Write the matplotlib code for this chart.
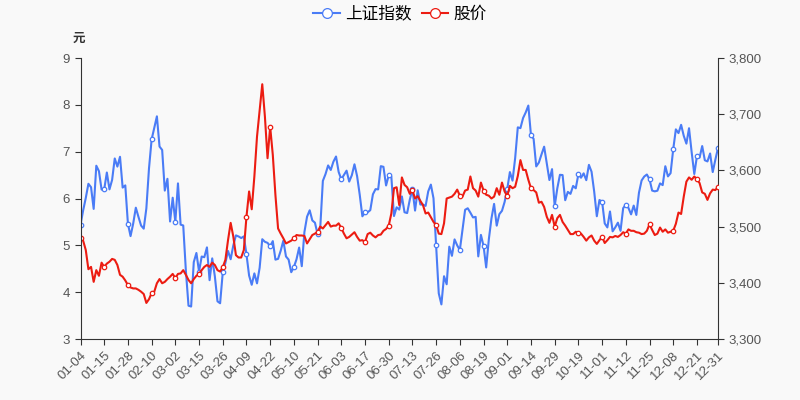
import numpy as np
import pandas as pd
import matplotlib
matplotlib.use('Agg')
import matplotlib.pyplot as plt
from matplotlib.ticker import FuncFormatter

plt.rcParams['font.family'] = ['Liberation Sans', 'Noto Sans CJK SC', 'DejaVu Sans']

# 2021年交易日(剔除节假日)
holidays = ['2021-01-01', '2021-02-11', '2021-02-12', '2021-02-15', '2021-02-16',
            '2021-02-17', '2021-04-05', '2021-05-03', '2021-05-04', '2021-05-05',
            '2021-06-14', '2021-09-20', '2021-09-21', '2021-10-01', '2021-10-04',
            '2021-10-05', '2021-10-06', '2021-10-07']
days = pd.bdate_range('2021-01-01', '2021-12-31')
days = days[~days.isin(pd.to_datetime(holidays))]
dates = [d.strftime('%m-%d') for d in days]

# 上证指数 收盘
sse = [
    # 1月
    3502.96, 3528.68, 3550.88, 3576.20, 3570.11, 3531.50, 3608.34, 3598.65, 3565.90, 3566.38,
    3596.22, 3566.26, 3583.09, 3621.26, 3606.75, 3624.24, 3569.43, 3573.34, 3505.18, 3483.07,
    # 2月
    3505.28, 3533.68, 3517.31, 3501.86, 3496.33, 3532.44, 3603.49, 3655.09, 3675.36, 3696.17,
    3642.44, 3636.36, 3564.08, 3585.05, 3509.08,
    # 3月
    3551.40, 3508.59, 3576.90, 3503.49, 3501.99, 3421.41, 3359.29, 3357.74, 3436.83, 3453.08,
    3419.95, 3446.73, 3445.55, 3463.07, 3404.66, 3443.44, 3411.51, 3367.06, 3363.59, 3418.33,
    3435.30, 3456.68, 3441.91,
    # 4月
    3466.33, 3484.39, 3482.48, 3479.63, 3482.55, 3450.68, 3412.95, 3396.47, 3416.75, 3398.99,
    3426.62, 3477.55, 3472.94, 3471.07, 3465.11, 3474.17, 3441.17, 3442.61, 3457.07, 3474.90,
    3446.86,
    # 5月
    3441.28, 3418.87, 3427.99, 3441.85, 3462.75, 3429.54, 3490.38, 3517.62, 3529.01, 3510.96,
    3506.94, 3486.56, 3497.28, 3581.34, 3593.36, 3608.85, 3600.78, 3615.48,
    # 6月
    3624.71, 3597.14, 3584.22, 3591.84, 3599.54, 3580.11, 3591.40, 3610.86, 3589.75, 3556.56,
    3518.33, 3525.10, 3525.60, 3529.18, 3557.41, 3566.65, 3566.22, 3607.56, 3606.37, 3573.18,
    3591.20,
    # 7月
    3588.78, 3518.76, 3534.32, 3530.26, 3553.72, 3525.50, 3524.09, 3547.84, 3566.54, 3528.50,
    3564.59, 3539.30, 3539.12, 3536.79, 3562.70, 3574.73, 3550.40, 3467.44, 3381.18, 3361.59,
    3411.72, 3397.36,
    # 8月
    3464.29, 3447.99, 3477.22, 3466.56, 3458.23, 3494.63, 3529.93, 3532.62, 3524.74, 3516.30,
    3517.34, 3446.98, 3485.29, 3465.55, 3427.33, 3477.13, 3514.47, 3540.38, 3501.66, 3522.16,
    3528.15, 3543.94,
    # 9月
    3567.10, 3597.04, 3581.73, 3621.86, 3676.59, 3675.19, 3693.13, 3703.11, 3715.37, 3662.60,
    3656.22, 3607.09, 3613.97, 3628.49, 3642.22, 3613.07, 3582.83, 3602.22, 3536.29, 3568.17,
    # 10月
    3592.17, 3591.71, 3546.94, 3561.76, 3558.28, 3572.37, 3568.14, 3593.15, 3587.00, 3594.78,
    3582.60, 3609.86, 3597.64, 3562.31, 3518.42, 3547.34,
    # 11月
    3544.48, 3505.63, 3498.54, 3526.87, 3491.57, 3498.63, 3507.00, 3492.46, 3532.79, 3539.10,
    3533.30, 3521.79, 3537.37, 3520.71, 3560.37, 3582.08, 3589.09, 3592.70, 3584.18, 3564.09,
    3562.70, 3563.89,
    # 12月
    3576.89, 3573.84, 3607.43, 3589.31, 3595.09, 3637.57, 3673.04, 3666.35, 3681.08, 3661.53,
    3647.63, 3675.02, 3632.36, 3593.60, 3625.13, 3622.62, 3643.34, 3618.05, 3615.97, 3630.11,
    3597.00, 3619.19, 3639.78,
]

# 股价(元)
price = [
    5.16, 5.10, 4.90, 4.49, 4.54, 4.22, 4.47, 4.35, 4.63, 4.54,
    4.61, 4.65, 4.71, 4.69, 4.58, 4.37, 4.33, 4.25, 4.15, 4.10,
    4.08, 4.08, 4.05, 4.01, 3.96, 3.77, 3.85, 3.98, 4.01, 4.19,
    4.28, 4.19, 4.22, 4.28, 4.33, 4.39, 4.30, 4.39, 4.40, 4.47,
    4.37, 4.26, 4.19, 4.28, 4.35, 4.39, 4.47, 4.54, 4.58, 4.54,
    4.63, 4.58, 4.47, 4.44, 4.53, 4.69, 5.11, 5.48, 5.19, 4.79,
    4.74, 4.74, 4.90, 5.61, 6.15, 5.77, 6.47, 7.32, 7.89, 8.44,
    7.75, 6.86, 7.53, 6.93, 6.07, 5.36, 5.25, 5.15, 5.04, 5.07,
    5.10, 5.15, 5.22, 5.21, 5.21, 5.20, 5.04, 5.13, 5.22, 5.25,
    5.29, 5.40, 5.36, 5.43, 5.50, 5.40, 5.42, 5.42, 5.47, 5.37,
    5.25, 5.15, 5.18, 5.23, 5.28, 5.18, 5.10, 5.11, 5.07, 5.24,
    5.27, 5.21, 5.17, 5.22, 5.23, 5.31, 5.35, 5.42, 5.68, 6.22,
    6.24, 5.86, 6.45, 6.29, 6.24, 6.10, 6.18, 6.00, 6.05, 5.95,
    5.86, 5.68, 5.70, 5.60, 5.50, 5.43, 5.25, 5.24, 5.47, 6.00,
    6.02, 6.04, 6.10, 6.19, 6.06, 6.04, 6.17, 6.19, 6.47, 6.22,
    6.17, 6.04, 6.34, 6.17, 6.08, 6.06, 6.00, 6.04, 6.22, 6.08,
    6.34, 6.15, 6.05, 6.27, 6.22, 6.25, 6.48, 6.82, 6.61, 6.61,
    6.40, 6.22, 6.18, 6.13, 5.91, 5.93, 5.82, 5.61, 5.48, 5.65,
    5.40, 5.58, 5.65, 5.50, 5.42, 5.33, 5.24, 5.24, 5.29, 5.27,
    5.25, 5.18, 5.10, 5.17, 5.21, 5.10, 5.03, 5.11, 5.18, 5.05,
    5.11, 5.18, 5.17, 5.20, 5.18, 5.22, 5.28, 5.25, 5.34, 5.31,
    5.31, 5.28, 5.27, 5.24, 5.25, 5.31, 5.45, 5.33, 5.22, 5.25,
    5.38, 5.29, 5.34, 5.27, 5.29, 5.31, 5.46, 5.70, 5.67, 6.04,
    6.36, 6.45, 6.40, 6.47, 6.41, 6.33, 6.13, 6.10, 5.97, 6.11,
    6.19, 6.18, 6.25,
]

left_ticks = [3, 4, 5, 6, 7, 8, 9]
right_ticks = [3300, 3400, 3500, 3600, 3700, 3800]

blue = '#4a7cf6'
red = '#ec1c12'
axis_col = '#333333'
text_col = '#555555'
bg = '#f9f9f9'

n = len(dates)
x = np.arange(n)
marks = list(range(0, n, 9))
if marks[-1] != n - 1:
    marks.append(n - 1)

fig = plt.figure(figsize=(8, 4), dpi=100, facecolor=bg)
ax = fig.add_axes([80.5 / 800, 1 - 339 / 400, (718 - 80.5) / 800, (339 - 58) / 400])
ax.set_facecolor(bg)
ax2 = ax.twinx()

l2, = ax2.plot(x, sse, color=blue, lw=1.5, marker='o', markersize=3.2,
               markerfacecolor='white', markeredgecolor=blue, markeredgewidth=0.9,
               markevery=marks, label='上证指数')
l1, = ax.plot(x, price, color=red, lw=1.5, marker='o', markersize=3.2,
              markerfacecolor='white', markeredgecolor=red, markeredgewidth=0.9,
              markevery=marks, label='股价')
ax.set_zorder(ax2.get_zorder() + 1)
ax.patch.set_visible(False)
ax2.patch.set_visible(True)
ax2.patch.set_facecolor(bg)

ax.set_xlim(0, n - 1)
ax.set_ylim(3, 9)
ax2.set_ylim(3300, 3800)
ax.set_yticks(left_ticks)
ax2.set_yticks(right_ticks)
ax2.yaxis.set_major_formatter(FuncFormatter(lambda v, p: f'{int(v):,}'))

ax.set_xticks(marks)
ax.set_xticklabels([dates[i] for i in marks], rotation=45, ha='right',
                   rotation_mode='anchor', fontsize=9.5, color=text_col)

for a in (ax, ax2):
    a.spines['top'].set_visible(False)
    for s in ('left', 'right', 'bottom'):
        a.spines[s].set_color(axis_col)
    a.tick_params(axis='both', colors=axis_col, labelcolor=text_col,
                  labelsize=9.5, length=4, width=0.8)
ax.spines['right'].set_visible(False)
ax2.spines['left'].set_visible(False)
ax2.spines['bottom'].set_visible(False)

fig.text(79 / 800, 1 - 38 / 400, '元', fontsize=9, color='#333333',
         ha='center', va='center', fontweight='bold', family=['Noto Sans CJK SC'])

fig.legend(handles=[l2, l1], loc='center', bbox_to_anchor=(0.5, 1 - 14 / 400),
           ncol=2, frameon=False, handlelength=1.6, handletextpad=0.3,
           columnspacing=0.6, markerscale=2.2,
           prop={'family': ['Noto Sans CJK SC'], 'size': 12})

fig.savefig('out.png', dpi=100, facecolor=bg)
